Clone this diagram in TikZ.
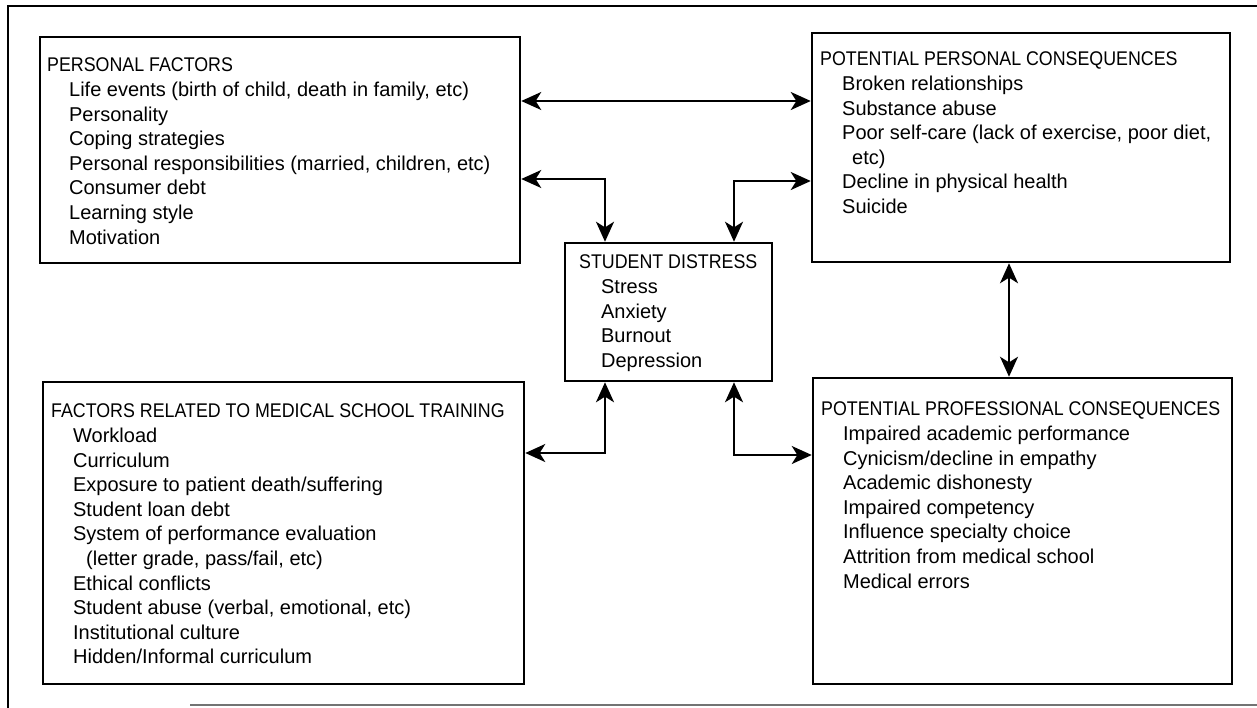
\documentclass[tikz,border=0pt]{standalone}
\usepackage{fontspec}
\setmainfont{Liberation Sans}
\usetikzlibrary{arrows.meta,fit,calc}
\newfontfamily\headfont[FakeStretch=0.9]{Liberation Sans}
\newcommand\boxhead[1]{{\headfont\fontsize{9.9}{12.3}\selectfont #1}}
\newcommand\itm{\hspace*{11pt}}
\newcommand\cont{\hspace*{17.5pt}}
\begin{document}
\begin{tikzpicture}[x=0.5pt,y=-0.5pt,
  panel/.style={draw=black, line width=1.25pt, inner sep=0pt},
  txt/.style={anchor=north west, inner sep=0pt, align=left, font=\fontsize{10}{12.3}\selectfont},
  tip/.tip={Stealth[length=10pt,width=9pt,inset=2.8pt]},
  link/.style={line width=1.1pt, tip-tip},
  frame/.style={line width=1.2pt},
]
\useasboundingbox (0,0) rectangle (1257,707);
% outer frame
\draw[frame] (1262,6) -- (8,6) -- (8,712);
\draw[line width=0.6pt, black!55] (190,705) -- (1262,705);

% panels
\node[panel, fit={(40,37) (520,263)}] (pf) {};
\node[panel, fit={(812,33) (1230,262)}] (ppc) {};
\node[panel, fit={(565,243) (772,381)}] (sd) {};
\node[panel, fit={(43,382) (524,684)}] (fm) {};
\node[panel, fit={(813,378) (1232,684)}] (pp) {};

% texts
\node[txt] (pft) at ($(pf.north west)+(8,22)$) {\boxhead{PERSONAL FACTORS}\\
\itm Life events (birth of child, death in family, etc)\\
\itm Personality\\
\itm Coping strategies\\
\itm Personal responsibilities (married, children, etc)\\
\itm Consumer debt\\
\itm Learning style\\
\itm Motivation};

\node[txt] (ppct) at ($(ppc.north west)+(9,20)$) {\boxhead{POTENTIAL PERSONAL CONSEQUENCES}\\
\itm Broken relationships\\
\itm Substance abuse\\
\itm Poor self-care (lack of exercise, poor diet,\\
\hspace*{16pt}etc)\\
\itm Decline in physical health\\
\itm Suicide};

\node[txt] (sdt) at ($(sd.north west)+(15,13)$) {\boxhead{STUDENT DISTRESS}\\
\itm Stress\\
\itm Anxiety\\
\itm Burnout\\
\itm Depression};

\node[txt] (fmt) at ($(fm.north west)+(9,23)$) {\boxhead{FACTORS RELATED TO MEDICAL SCHOOL TRAINING}\\
\itm Workload\\
\itm Curriculum\\
\itm Exposure to patient death/suffering\\
\itm Student loan debt\\
\itm System of performance evaluation\\
\cont (letter grade, pass/fail, etc)\\
\itm Ethical conflicts\\
\itm Student abuse (verbal, emotional, etc)\\
\itm Institutional culture\\
\itm Hidden/Informal curriculum};

\node[txt] (ppt) at ($(pp.north west)+(9,25)$) {\boxhead{POTENTIAL PROFESSIONAL CONSEQUENCES}\\
\itm Impaired academic performance\\
\itm Cynicism/decline in empathy\\
\itm Academic dishonesty\\
\itm Impaired competency\\
\itm Influence specialty choice\\
\itm Attrition from medical school\\
\itm Medical errors};

% guide coordinates
\coordinate (r1) at (0,101);
\coordinate (r2) at (0,179);
\coordinate (r3) at (0,181);
\coordinate (r5) at (0,453);
\coordinate (r6) at (0,455);
\coordinate (xa) at (605,0);
\coordinate (xb) at (734,0);
\coordinate (xc) at (1009,0);

% connectors
\draw[link] (pf.east |- r1) -- (ppc.west |- r1);
\draw[link] (pf.east |- r2) -| (sd.north -| xa);
\draw[link] (ppc.west |- r3) -| (sd.north -| xb);
\draw[link] (ppc.south -| xc) -- (pp.north -| xc);
\draw[link] (fm.east |- r5) -| (sd.south -| xa);
\draw[link] (pp.west |- r6) -| (sd.south -| xb);
\end{tikzpicture}
\end{document}
